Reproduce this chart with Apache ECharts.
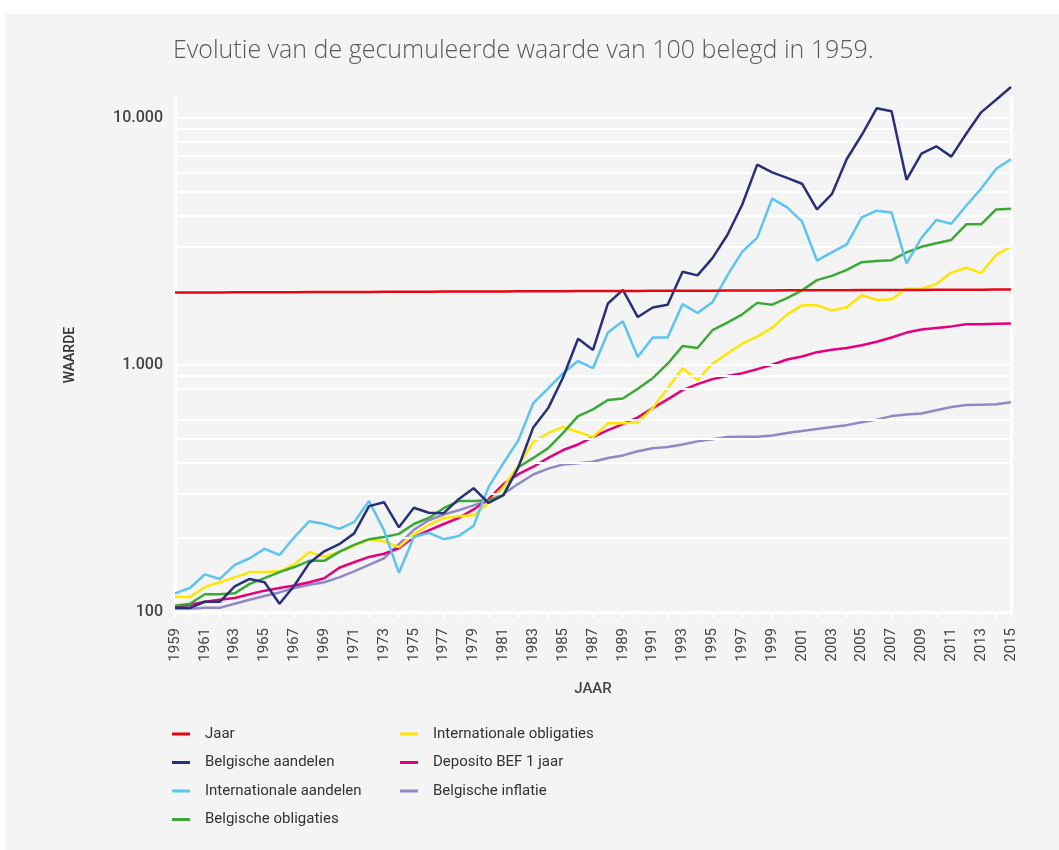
<!DOCTYPE html>
<html>
<head>
<meta charset="utf-8">
<script src="https://cdn.jsdelivr.net/npm/echarts@6/dist/echarts.min.js"></script>
<style>
  html, body { margin: 0; padding: 0; background: #ffffff; }
  #panel { position: absolute; left: 5px; top: 14px; width: 1054px; height: 836px; background: #f4f4f4; }
  #chart { position: absolute; left: 0; top: 0; width: 1059px; height: 850px; }
</style>
</head>
<body>
<div id="panel"></div>
<div id="chart"></div>
<script>
// jaartallen 1959 - 2015
var years = [];
for (var y = 1959; y <= 2015; y++) years.push(y);

var belgAandelen = [104, 104, 110, 110, 127, 136, 132, 108, 128, 158,
  176, 188, 208, 268, 278, 220, 264, 252, 251, 286,
  317, 276, 297, 385, 558, 668, 890, 1275, 1148, 1770,
  2010, 1560, 1705, 1750, 2380, 2300, 2700, 3350, 4450, 6450,
  6000, 5700, 5400, 4250, 4900, 6800, 8500, 10900, 10600, 5600,
  7150, 7650, 6950, 8600, 10500, 11800, 13300];

var intAandelen = [119, 125, 142, 136, 155, 165, 180, 170, 201, 233,
  227, 217, 231, 281, 214, 144, 201, 209, 197, 203,
  223, 320, 400, 495, 700, 802, 925, 1035, 970, 1350,
  1500, 1075, 1290, 1290, 1760, 1620, 1790, 2300, 2870, 3270,
  4700, 4330, 3800, 2640, 2850, 3070, 3950, 4200, 4130, 2570,
  3260, 3850, 3720, 4400, 5160, 6200, 6780];

var belgObligaties = [106, 108, 118, 118, 119, 130, 137, 145, 152, 161,
  161, 175, 187, 197, 201, 207, 227, 240, 263, 281,
  281, 283, 297, 385, 420, 460, 530, 620, 660, 720,
  730, 800, 883, 1010, 1190, 1170, 1380, 1480, 1600, 1780,
  1750, 1860, 2000, 2200, 2290, 2420, 2600, 2630, 2650, 2850,
  3000, 3100, 3200, 3700, 3700, 4250, 4280];

var intObligaties = [115, 115, 126, 132, 138, 145, 145, 146, 156, 175,
  167, 175, 185, 197, 193, 183, 206, 225, 240, 244,
  246, 276, 320, 392, 487, 530, 560, 535, 510, 580,
  580, 585, 668, 803, 968, 868, 1010, 1110, 1220, 1300,
  1410, 1600, 1740, 1740, 1660, 1710, 1910, 1830, 1840, 2030,
  2030, 2120, 2360, 2470, 2350, 2780, 3010];

var deposito = [105, 107, 110, 112, 114, 118, 122, 125, 128, 132,
  137, 151, 159, 167, 172, 181, 201, 214, 227, 240,
  260, 286, 329, 361, 387, 420, 452, 476, 510, 544,
  575, 613, 668, 725, 790, 835, 875, 900, 925, 960,
  1000, 1050, 1080, 1125, 1150, 1170, 1200, 1240, 1290, 1350,
  1390, 1410, 1430, 1460, 1460, 1465, 1470];

var inflatie = [103, 103, 104, 104, 108, 112, 116, 120, 125, 129,
  132, 138, 146, 155, 165, 188, 215, 235, 248, 258,
  270, 283, 300, 330, 360, 380, 395, 400, 405, 420,
  430, 447, 460, 465, 476, 490, 500, 510, 512, 512,
  518, 530, 540, 550, 560, 570, 585, 600, 620, 630,
  635, 655, 675, 687, 690, 692, 705];

// de reeks "Jaar" is het jaartal zelf
var jaar = years.slice();

var yLabels = [100, 1000, 10000];
var gridValues = [200, 300, 400, 500, 600, 800, 900, 1000,
  2000, 3000, 4000, 5000, 6000, 7000, 8000, 9000, 10000];

var legendLeft = ['Jaar', 'Belgische aandelen', 'Internationale aandelen', 'Belgische obligaties'];
var legendRight = ['Internationale obligaties', 'Deposito BEF 1 jaar', 'Belgische inflatie'];

var colors = {
  'Jaar': '#e30613',
  'Belgische aandelen': '#27317a',
  'Internationale aandelen': '#5bc4f1',
  'Belgische obligaties': '#3ba935',
  'Internationale obligaties': '#ffe500',
  'Deposito BEF 1 jaar': '#e6007e',
  'Belgische inflatie': '#9089c4'
};

function fmtThousands(v) {
  return String(v).replace(/\B(?=(\d{3})+(?!\d))/g, '.');
}

function lineSeries(name, data, z) {
  return {
    name: name,
    type: 'line',
    data: data,
    showSymbol: false,
    symbol: 'none',
    clip: false,
    z: z,
    lineStyle: { width: 2.5, color: colors[name] },
    itemStyle: { color: colors[name] },
    emphasis: { disabled: true }
  };
}

var legendText = { color: '#333', fontSize: 15, fontFamily: 'Roboto', lineHeight: 16, padding: [0, 0, 0, 10] };

var chart = echarts.init(document.getElementById('chart'));
chart.setOption({
  backgroundColor: 'transparent',
  animation: false,
  title: {
    text: 'Evolutie van de gecumuleerde waarde van 100 belegd in 1959.',
    left: 168,
    top: 33,
    textStyle: { fontFamily: 'Open Sans', fontWeight: 300, fontSize: 25, color: '#5a5a5a' }
  },
  legend: [{
    data: legendLeft,
    orient: 'vertical',
    left: 167,
    top: 721,
    icon: 'rect',
    itemWidth: 18,
    itemHeight: 3,
    itemGap: 12.5,
    selectedMode: false,
    textStyle: legendText
  }, {
    data: legendRight,
    orient: 'vertical',
    left: 395,
    top: 721,
    icon: 'rect',
    itemWidth: 18,
    itemHeight: 3,
    itemGap: 12.5,
    selectedMode: false,
    textStyle: legendText
  }],
  grid: { left: 175, right: 48, top: 98, bottom: 238, containLabel: false },
  xAxis: {
    type: 'category',
    data: years,
    boundaryGap: false,
    name: 'JAAR',
    nameLocation: 'middle',
    nameGap: 70,
    nameTextStyle: { fontFamily: 'Roboto', fontWeight: 500, fontSize: 15, color: '#444' },
    axisLine: { lineStyle: { color: '#ffffff', width: 3 } },
    axisTick: { show: true, interval: 0, length: 6, lineStyle: { color: '#ffffff', width: 2 } },
    axisLabel: { interval: 1, rotate: 90, margin: 16, fontFamily: 'Roboto', fontSize: 15, color: '#444' },
    splitLine: { show: false }
  },
  yAxis: [{
    type: 'log',
    logBase: 10,
    min: 100,
    max: 12000,
    name: 'WAARDE',
    nameLocation: 'middle',
    nameGap: 98,
    nameTextStyle: { fontFamily: 'Roboto', fontWeight: 500, fontSize: 14, color: '#333' },
    axisLine: { show: true, lineStyle: { color: '#ffffff', width: 3 } },
    axisTick: { show: false },
    axisLabel: {
      margin: 12,
      fontFamily: 'Roboto',
      fontWeight: 500,
      fontSize: 16,
      color: '#444',
      formatter: function (v) {
        return yLabels.indexOf(Math.round(v)) >= 0 ? fmtThousands(Math.round(v)) : '';
      }
    },
    splitLine: { show: false }
  }, {
    type: 'log',
    logBase: 10,
    min: 100,
    max: 12000,
    position: 'right',
    axisLine: { show: true, lineStyle: { color: '#ffffff', width: 3 } },
    axisTick: { show: false },
    axisLabel: { show: false },
    splitLine: { show: false }
  }],
  series: [
    {
      type: 'line',
      data: [],
      silent: true,
      z: 1,
      markLine: {
        silent: true,
        symbol: 'none',
        label: { show: false },
        animation: false,
        lineStyle: { color: '#ffffff', width: 2, type: 'solid' },
        emphasis: { disabled: true },
        data: gridValues.map(function (v) { return { yAxis: v }; })
      }
    },
    lineSeries('Belgische inflatie', inflatie, 2),
    lineSeries('Deposito BEF 1 jaar', deposito, 3),
    lineSeries('Internationale obligaties', intObligaties, 4),
    lineSeries('Belgische obligaties', belgObligaties, 5),
    lineSeries('Internationale aandelen', intAandelen, 6),
    lineSeries('Belgische aandelen', belgAandelen, 7),
    lineSeries('Jaar', jaar, 8)
  ]
});
</script>
</body>
</html>
